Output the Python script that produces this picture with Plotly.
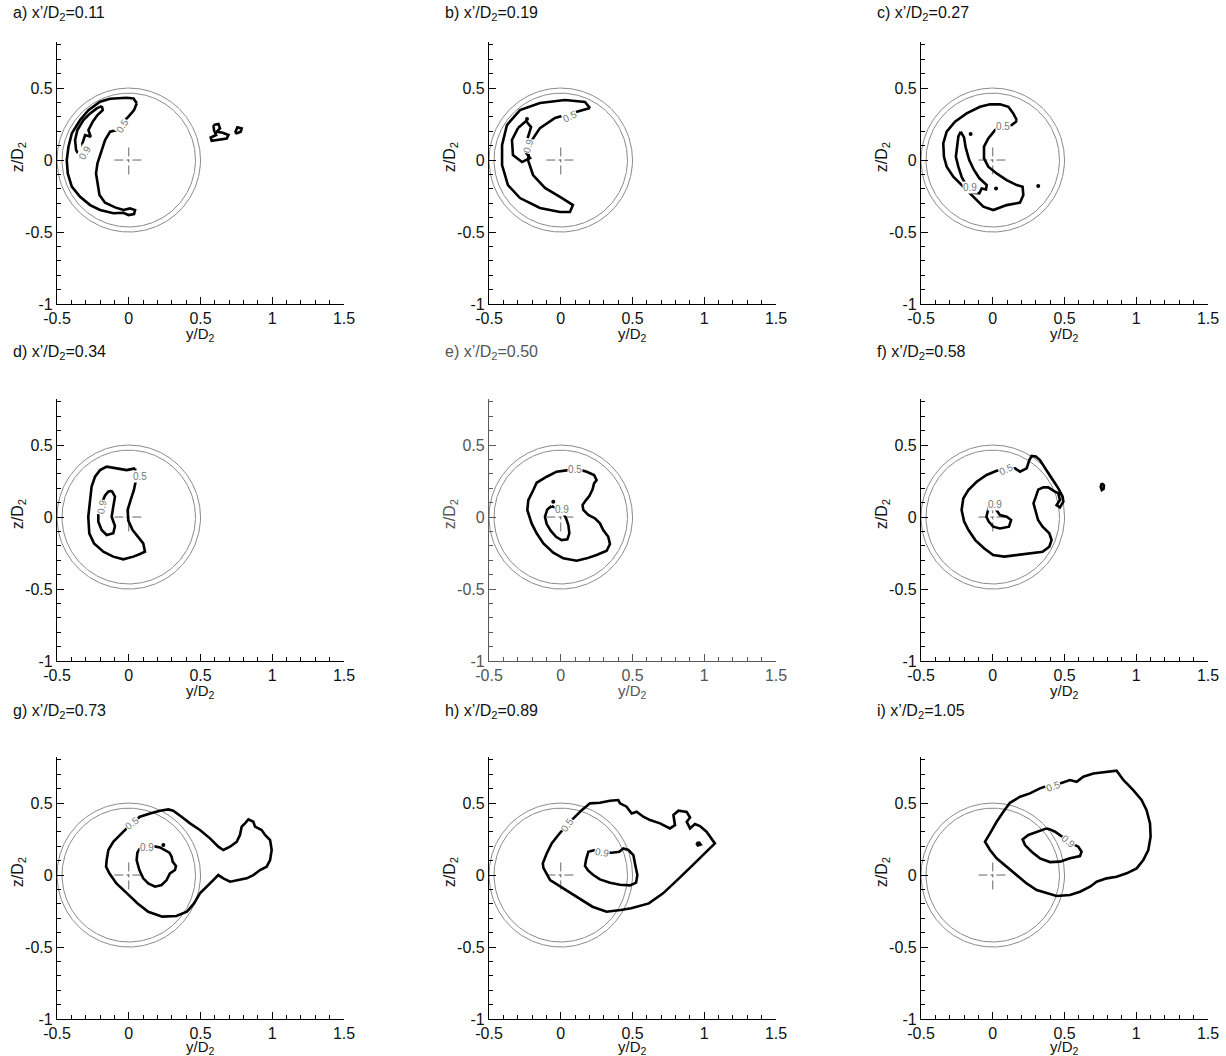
import numpy as np
import plotly.graph_objects as go

# ---------------- data ----------------
PANEL_LETTERS = ["a", "b", "c", "d", "e", "f", "g", "h", "i"]
X_PRIME = ["0.11", "0.19", "0.27", "0.34", "0.50", "0.58", "0.73", "0.89", "1.05"]
X_TICKS = [-0.5, 0, 0.5, 1, 1.5]
X_TICK_TEXT = ["-0.5", "0", "0.5", "1", "1.5"]
Z_TICKS = [-1, -0.5, 0, 0.5]
Z_TICK_TEXT = ["-1", "-0.5", "0", "0.5"]
CIRCLE_RADII = [0.5, 0.465]
CROSS_HALF = 0.1

A_05 = [(0.056, 0.394), (0.033, 0.428), (-0.014, 0.433), (-0.130, 0.426), (-0.200, 0.405), (-0.281, 0.347),
        (-0.339, 0.278), (-0.397, 0.185), (-0.420, 0.093), (-0.432, 0.0), (-0.425, -0.093), (-0.397, -0.185),
        (-0.339, -0.255), (-0.269, -0.313), (-0.200, -0.347), (-0.107, -0.370), (-0.037, -0.366),
        (-0.002, -0.382), (0.037, -0.375), (0.044, -0.347), (0.009, -0.336), (-0.037, -0.347),
        (-0.095, -0.329), (-0.165, -0.296), (-0.204, -0.243), (-0.218, -0.162), (-0.228, -0.093),
        (-0.218, -0.023), (-0.195, 0.046), (-0.165, 0.139), (-0.130, 0.197), (-0.084, 0.208),
        (-0.049, 0.255), (-0.002, 0.301), (0.037, 0.347)]
A_09 = [(-0.188, 0.375), (-0.223, 0.359), (-0.269, 0.324), (-0.316, 0.278), (-0.358, 0.208), (-0.374, 0.139),
        (-0.367, 0.069), (-0.339, 0.023), (-0.316, 0.042), (-0.323, 0.116), (-0.304, 0.174), (-0.265, 0.162),
        (-0.281, 0.208), (-0.251, 0.266), (-0.218, 0.313), (-0.181, 0.347)]
A_ISLE1 = [(0.590, 0.243), (0.625, 0.250), (0.636, 0.220), (0.613, 0.197), (0.655, 0.190), (0.695, 0.174),
           (0.683, 0.150), (0.636, 0.144), (0.578, 0.134), (0.571, 0.157), (0.609, 0.174), (0.595, 0.204)]
A_ISLE2 = [(0.741, 0.190), (0.757, 0.227), (0.787, 0.220), (0.780, 0.197), (0.752, 0.185)]

B_05 = [(0.204, 0.361), (0.169, 0.403), (0.030, 0.417), (-0.145, 0.396), (-0.284, 0.347), (-0.375, 0.243),
        (-0.409, 0.104), (-0.409, -0.035), (-0.368, -0.174), (-0.284, -0.264), (-0.145, -0.333),
        (-0.005, -0.361), (0.064, -0.361), (0.085, -0.313), (0.009, -0.264), (-0.110, -0.194),
        (-0.193, -0.104), (-0.228, 0.0), (-0.214, 0.118), (-0.145, 0.222), (-0.040, 0.292), (0.099, 0.333)]
B_09 = [(-0.298, 0.222), (-0.242, 0.271), (-0.207, 0.229), (-0.235, 0.139), (-0.256, 0.069), (-0.214, 0.014),
        (-0.270, -0.014), (-0.333, 0.035), (-0.340, 0.139)]

C_05 = [(0.167, 0.278), (0.143, 0.324), (0.109, 0.370), (0.051, 0.387), (-0.019, 0.387), (-0.089, 0.370),
        (-0.182, 0.324), (-0.263, 0.266), (-0.321, 0.197), (-0.345, 0.116), (-0.340, 0.023), (-0.321, -0.046),
        (-0.275, -0.116), (-0.205, -0.185), (-0.136, -0.255), (-0.066, -0.324), (0.004, -0.347),
        (0.097, -0.313), (0.190, -0.296), (0.213, -0.243), (0.208, -0.185), (0.167, -0.174), (0.097, -0.139),
        (0.027, -0.093), (-0.031, -0.046), (-0.061, 0.012), (-0.061, 0.093), (-0.031, 0.150), (0.016, 0.208),
        (0.074, 0.236), (0.132, 0.243), (0.162, 0.266)]
C_09 = [(-0.224, 0.197), (-0.200, 0.157), (-0.189, 0.088), (-0.164, 0.0), (-0.131, -0.069), (-0.093, -0.127),
        (-0.042, -0.174), (-0.047, -0.204), (-0.077, -0.197), (-0.093, -0.231), (-0.135, -0.227),
        (-0.182, -0.181), (-0.217, -0.116), (-0.240, -0.046), (-0.257, 0.023), (-0.247, 0.093), (-0.240, 0.162)]

D_05 = [(0.044, 0.338), (-0.015, 0.326), (-0.084, 0.338), (-0.154, 0.350), (-0.200, 0.326), (-0.235, 0.280),
        (-0.259, 0.211), (-0.270, 0.118), (-0.282, 0.002), (-0.275, -0.113), (-0.242, -0.183), (-0.177, -0.241),
        (-0.108, -0.275), (-0.038, -0.294), (0.032, -0.275), (0.078, -0.257), (0.113, -0.241), (0.101, -0.183),
        (0.066, -0.137), (0.027, -0.090), (-0.003, -0.025), (-0.008, 0.049), (0.013, 0.118), (0.036, 0.188),
        (0.050, 0.257), (0.044, 0.303)]
D_09 = [(-0.119, 0.183), (-0.096, 0.141), (-0.108, 0.072), (-0.119, 0.002), (-0.096, -0.063), (-0.108, -0.113),
        (-0.154, -0.125), (-0.189, -0.090), (-0.212, -0.032), (-0.212, 0.037), (-0.189, 0.095), (-0.166, 0.148),
        (-0.143, 0.176)]

E_05 = [(0.053, 0.326), (-0.029, 0.315), (-0.098, 0.280), (-0.168, 0.238), (-0.191, 0.188), (-0.226, 0.118),
        (-0.233, 0.049), (-0.203, -0.044), (-0.168, -0.113), (-0.121, -0.183), (-0.052, -0.248), (0.018, -0.287),
        (0.111, -0.303), (0.181, -0.287), (0.250, -0.264), (0.320, -0.234), (0.343, -0.188), (0.331, -0.137),
        (0.296, -0.090), (0.273, -0.044), (0.238, -0.009), (0.192, 0.014), (0.157, 0.049), (0.152, 0.083),
        (0.176, 0.118), (0.199, 0.146), (0.222, 0.192), (0.232, 0.234), (0.250, 0.257), (0.232, 0.292),
        (0.181, 0.315), (0.146, 0.326), (0.099, 0.338)]
E_09 = [(-0.064, 0.076), (-0.094, 0.053), (-0.110, 0.002), (-0.098, -0.049), (-0.070, -0.095), (-0.033, -0.137),
        (0.006, -0.160), (0.046, -0.155), (0.060, -0.113), (0.053, -0.056), (0.037, -0.009), (0.018, 0.025),
        (-0.017, 0.049), (-0.040, 0.067)]

F_05 = [(0.060, 0.330), (0.027, 0.322), (-0.043, 0.292), (-0.112, 0.245), (-0.170, 0.188), (-0.205, 0.130),
        (-0.217, 0.049), (-0.200, -0.030), (-0.169, -0.090), (-0.122, -0.160), (-0.059, -0.218), (0.003, -0.264),
        (0.081, -0.275), (0.175, -0.264), (0.269, -0.252), (0.347, -0.241), (0.394, -0.206), (0.410, -0.160),
        (0.394, -0.113), (0.347, -0.067), (0.316, -0.021), (0.300, 0.037), (0.284, 0.095), (0.300, 0.140),
        (0.317, 0.190), (0.352, 0.206), (0.387, 0.206), (0.422, 0.183), (0.457, 0.164), (0.468, 0.118),
        (0.445, 0.083), (0.468, 0.067), (0.492, 0.106), (0.487, 0.141), (0.457, 0.199), (0.410, 0.269),
        (0.364, 0.338), (0.329, 0.396), (0.300, 0.420), (0.271, 0.424), (0.255, 0.396), (0.236, 0.338),
        (0.190, 0.315), (0.155, 0.338), (0.120, 0.335)]
F_09 = [(-0.013, 0.106), (-0.028, 0.067), (-0.044, 0.002), (-0.028, -0.032), (0.003, -0.067), (0.050, -0.079),
        (0.113, -0.067), (0.128, -0.021), (0.097, 0.002), (0.050, 0.014), (0.025, 0.049), (0.013, 0.095)]
F_ISLE = [(0.760, 0.235), (0.775, 0.220), (0.772, 0.195), (0.760, 0.188), (0.752, 0.210)]

G_05 = [(0.020, 0.359), (0.078, 0.405), (0.148, 0.428), (0.218, 0.447), (0.276, 0.456), (0.310, 0.447),
        (0.368, 0.405), (0.427, 0.359), (0.496, 0.313), (0.566, 0.255), (0.624, 0.197), (0.659, 0.174),
        (0.706, 0.197), (0.752, 0.231), (0.775, 0.278), (0.787, 0.336), (0.810, 0.359), (0.834, 0.387),
        (0.868, 0.370), (0.880, 0.336), (0.926, 0.313), (0.950, 0.278), (0.985, 0.243), (0.996, 0.174),
        (0.985, 0.104), (0.961, 0.058), (0.915, 0.035), (0.868, 0.0), (0.822, -0.023), (0.764, -0.035),
        (0.706, -0.046), (0.659, -0.023), (0.624, 0.0), (0.589, -0.035), (0.543, -0.081), (0.496, -0.127),
        (0.455, -0.197), (0.405, -0.255), (0.332, -0.285), (0.234, -0.289), (0.136, -0.255), (0.062, -0.197),
        (-0.012, -0.127), (-0.086, -0.058), (-0.135, 0.012), (-0.158, 0.058), (-0.154, 0.104), (-0.142, 0.174),
        (-0.108, 0.231), (-0.061, 0.278), (-0.019, 0.324)]
G_09 = [(0.078, 0.185), (0.060, 0.155), (0.055, 0.104), (0.074, 0.035), (0.101, -0.023), (0.136, -0.058),
        (0.183, -0.081), (0.229, -0.069), (0.264, -0.035), (0.287, 0.012), (0.322, 0.035), (0.329, 0.063),
        (0.306, 0.093), (0.299, 0.127), (0.283, 0.155), (0.253, 0.174), (0.218, 0.192), (0.171, 0.201),
        (0.125, 0.195)]

H_05 = [(0.041, 0.347), (0.099, 0.405), (0.146, 0.451), (0.204, 0.498), (0.273, 0.502), (0.343, 0.516),
        (0.401, 0.521), (0.413, 0.498), (0.459, 0.475), (0.494, 0.428), (0.529, 0.440), (0.575, 0.405),
        (0.622, 0.382), (0.692, 0.359), (0.761, 0.324), (0.796, 0.347), (0.785, 0.417), (0.820, 0.447),
        (0.878, 0.438), (0.901, 0.400), (0.878, 0.370), (0.901, 0.324), (0.935, 0.355), (0.970, 0.340),
        (1.016, 0.301), (1.074, 0.220), (1.028, 0.174), (0.983, 0.127), (0.909, 0.058), (0.811, -0.035),
        (0.713, -0.127), (0.614, -0.197), (0.491, -0.231), (0.418, -0.243), (0.319, -0.255), (0.221, -0.220),
        (0.147, -0.174), (0.074, -0.127), (0.000, -0.081), (-0.074, -0.035), (-0.121, 0.050), (-0.125, 0.081),
        (-0.098, 0.150), (-0.063, 0.220), (-0.017, 0.278), (0.018, 0.324)]
H_09 = [(0.239, 0.174), (0.192, 0.162), (0.176, 0.104), (0.169, 0.063), (0.192, 0.030), (0.227, 0.0),
        (0.273, -0.030), (0.343, -0.053), (0.413, -0.067), (0.483, -0.072), (0.525, -0.053), (0.534, 0.0),
        (0.517, 0.081), (0.506, 0.139), (0.471, 0.174), (0.436, 0.185), (0.408, 0.162), (0.355, 0.155),
        (0.290, 0.160)]
H_ISLE = [(0.945, 0.222), (0.965, 0.225), (0.975, 0.212), (0.955, 0.205)]

I_05 = [(0.418, 0.618), (0.480, 0.637), (0.538, 0.660), (0.585, 0.648), (0.631, 0.683), (0.701, 0.706),
        (0.794, 0.718), (0.863, 0.725), (0.910, 0.660), (0.979, 0.590), (1.037, 0.521), (1.072, 0.451),
        (1.096, 0.359), (1.100, 0.266), (1.084, 0.174), (1.049, 0.104), (1.003, 0.046), (0.933, 0.012),
        (0.863, -0.012), (0.794, -0.023), (0.724, -0.046), (0.678, -0.081), (0.608, -0.116), (0.538, -0.139),
        (0.445, -0.146), (0.376, -0.127), (0.306, -0.104), (0.236, -0.058), (0.166, 0.0), (0.097, 0.058),
        (0.027, 0.116), (-0.019, 0.174), (-0.054, 0.231), (-0.019, 0.289), (0.027, 0.370), (0.074, 0.440),
        (0.120, 0.502), (0.190, 0.544), (0.259, 0.567), (0.329, 0.602), (0.376, 0.618)]
I_09 = [(0.376, 0.324), (0.317, 0.301), (0.248, 0.278), (0.208, 0.248), (0.225, 0.208), (0.271, 0.162),
        (0.329, 0.116), (0.399, 0.090), (0.468, 0.093), (0.538, 0.116), (0.608, 0.132), (0.619, 0.162),
        (0.596, 0.197), (0.550, 0.220), (0.492, 0.262), (0.434, 0.301), (0.399, 0.317)]

CONTOURS = {
    "a": [A_05, A_09, A_ISLE1, A_ISLE2],
    "b": [B_05, B_09],
    "c": [C_05, C_09],
    "d": [D_05, D_09],
    "e": [E_05, E_09],
    "f": [F_05, F_09, F_ISLE],
    "g": [G_05, G_09],
    "h": [H_05, H_09, H_ISLE],
    "i": [I_05, I_09],
}

LEVEL_LABELS = {
    "a": [("0.5", -0.049, 0.236, -60), ("0.9", -0.304, 0.050, -60)],
    "b": [("0.5", 0.064, 0.300, -25), ("0.9", -0.225, 0.100, -75)],
    "c": [("0.5", 0.074, 0.236, 0), ("0.9", -0.159, -0.190, 0)],
    "d": [("0.5", 0.080, 0.280, 0), ("0.9", -0.189, 0.067, -80)],
    "e": [("0.5", 0.099, 0.331, 0), ("0.9", 0.010, 0.053, 0)],
    "f": [("0.5", 0.092, 0.333, -25), ("0.9", 0.016, 0.090, 0)],
    "g": [("0.5", 0.020, 0.359, -35), ("0.9", 0.125, 0.192, 0)],
    "h": [("0.5", 0.041, 0.347, -55), ("0.9", 0.290, 0.160, 10)],
    "i": [("0.5", 0.418, 0.618, -20), ("0.9", 0.527, 0.231, 40)],
}

DOTS = {
    "b": [(-0.235, 0.285)],
    "c": [(-0.154, 0.181), (0.023, -0.197), (0.317, -0.181)],
    "e": [(-0.052, 0.106)],
    "g": [(0.241, 0.208)],
}

# ---------------- layout geometry (pixels) ----------------
W, H = 1226, 1056
COL_LEFT = [57, 489, 921]
COL_RIGHT = [344, 776, 1208]
ROW_BOTTOM = [304, 661, 1019]
ROW_TOP = [42, 399, 757]
TITLE_Y = [13, 353, 711]
XTITLE_Y = [334, 691, 1047]
Z_RANGE = [-1, 0.82]
FONT = "Liberation Sans"

fig = go.Figure()
theta = np.linspace(0, 2 * np.pi, 361)

for k, letter in enumerate(PANEL_LETTERS):
    r, c = divmod(k, 3)
    xa = "x" if k == 0 else f"x{k+1}"
    ya = "y" if k == 0 else f"y{k+1}"
    grey_panel = letter == "e"
    axis_col = "#5a5a5a" if grey_panel else "black"
    text_col = "#555555" if grey_panel else "#111111"

    for rad in CIRCLE_RADII:
        fig.add_trace(go.Scatter(x=rad * np.cos(theta), y=rad * np.sin(theta), mode="lines",
                                 line=dict(color="#8a8a8a", width=1), xaxis=xa, yaxis=ya,
                                 hoverinfo="skip", showlegend=False))
    fig.add_trace(go.Scatter(x=[-CROSS_HALF, CROSS_HALF], y=[0, 0], mode="lines",
                             line=dict(color="#666666", width=1, dash="dashdot"), xaxis=xa, yaxis=ya,
                             hoverinfo="skip", showlegend=False))
    fig.add_trace(go.Scatter(x=[0, 0], y=[-CROSS_HALF, CROSS_HALF], mode="lines",
                             line=dict(color="#666666", width=1, dash="dashdot"), xaxis=xa, yaxis=ya,
                             hoverinfo="skip", showlegend=False))
    for poly in CONTOURS[letter]:
        ys = [p[0] for p in poly] + [poly[0][0]]
        zs = [p[1] for p in poly] + [poly[0][1]]
        fig.add_trace(go.Scatter(x=ys, y=zs, mode="lines", line=dict(color="black", width=2.6),
                                 xaxis=xa, yaxis=ya, showlegend=False))
    if letter in DOTS:
        fig.add_trace(go.Scatter(x=[p[0] for p in DOTS[letter]], y=[p[1] for p in DOTS[letter]],
                                 mode="markers", marker=dict(color="black", size=4),
                                 xaxis=xa, yaxis=ya, showlegend=False))
    for txt, yy, zz, ang in LEVEL_LABELS[letter]:
        fig.add_annotation(x=yy, y=zz, xref=xa, yref=ya, text=txt, showarrow=False, textangle=ang,
                           font=dict(size=10, color="#777777", family=FONT),
                           bgcolor="white", borderpad=0)

    xdom = [COL_LEFT[c] / W, COL_RIGHT[c] / W]
    ydom = [1 - ROW_BOTTOM[r] / H, 1 - ROW_TOP[r] / H]
    axis_common = dict(showline=True, linecolor=axis_col, linewidth=1.3, ticks="inside", ticklen=7,
                       tickwidth=1, tickcolor=axis_col, showgrid=False, zeroline=False, mirror=False,
                       tickfont=dict(size=16, color=text_col, family=FONT), fixedrange=True,
                       automargin=False)
    fig.layout[("xaxis" if k == 0 else f"xaxis{k+1}")] = dict(
        domain=xdom, range=[-0.5, 1.5], anchor=ya, tickvals=X_TICKS, ticktext=X_TICK_TEXT,
        minor=dict(ticks="inside", ticklen=4, tickwidth=1, tickcolor=axis_col, dtick=0.1, tick0=0),
        **axis_common)
    fig.layout[("yaxis" if k == 0 else f"yaxis{k+1}")] = dict(
        domain=ydom, range=Z_RANGE, anchor=xa, tickvals=Z_TICKS, ticktext=Z_TICK_TEXT,
        minor=dict(ticks="inside", ticklen=4, tickwidth=1, tickcolor=axis_col, dtick=0.1, tick0=0),
        **axis_common)

    fig.add_annotation(x=(COL_LEFT[c] - 46) / W, y=1 - TITLE_Y[r] / H, xref="paper", yref="paper",
                       xanchor="left", yanchor="middle", showarrow=False,
                       text=f"{letter}) x’/D<sub>2</sub>={X_PRIME[k]}",
                       font=dict(size=16, color=text_col, family=FONT))
    fig.add_annotation(x=(COL_LEFT[c] + COL_RIGHT[c]) / 2 / W, y=1 - XTITLE_Y[r] / H, xref="paper",
                       yref="paper", xanchor="center", yanchor="middle", showarrow=False,
                       text="y/D<sub>2</sub>", font=dict(size=15, color=text_col, family=FONT))
    fig.add_annotation(x=(COL_LEFT[c] - 39) / W, y=0.02, xref="paper", yref=ya, xanchor="center",
                       yanchor="middle", showarrow=False, textangle=-90,
                       text="z/D<sub>2</sub>", font=dict(size=16, color=text_col, family=FONT))

fig.update_layout(width=W, height=H, margin=dict(l=0, r=0, t=0, b=0, autoexpand=False),
                  autosize=False, plot_bgcolor="white", paper_bgcolor="white", showlegend=False)

POST = ("document.documentElement.style.margin='0';document.documentElement.style.padding='0';"
        "document.body.style.margin='0';document.body.style.padding='0';"
        "document.body.style.overflow='hidden';document.documentElement.style.overflow='hidden';")
fig.write_html("out.html", config={"responsive": False, "displayModeBar": False}, post_script=POST)
